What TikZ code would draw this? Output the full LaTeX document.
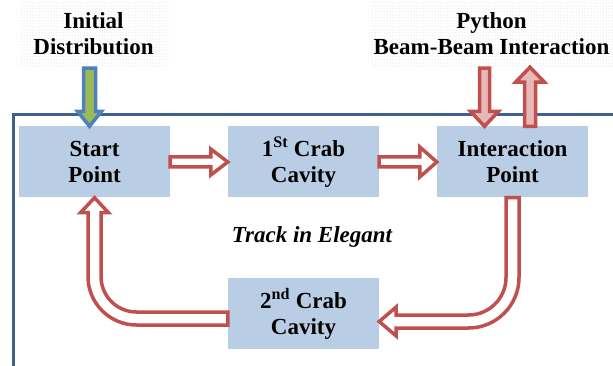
\documentclass[tikz,border=0pt]{standalone}
\usepackage{fontspec}
\setmainfont{Liberation Serif}
\usetikzlibrary{calc,patterns}
\definecolor{framec}{RGB}{65,96,146}
\definecolor{boxfill}{RGB}{185,205,229}
\definecolor{redline}{RGB}{192,80,77}
\definecolor{pinkfill}{RGB}{230,185,184}
\definecolor{greenfill}{RGB}{155,187,89}
\definecolor{blueline}{RGB}{79,129,189}
\tikzset{
  stepbox/.style={fill=boxfill, inner sep=0pt, minimum width=151pt, minimum height=71pt,
    align=center, font=\fontsize{23}{26}\selectfont\bfseries},
  labelbox/.style={pattern=dots, pattern color=black!18, inner sep=0pt, minimum height=68pt,
    align=center, font=\fontsize{23}{26}\selectfont\bfseries},
  hollowarrow/.style={draw=redline, line width=3.5pt, fill=white},
  pinkarrow/.style={draw=redline, line width=3.5pt, fill=pinkfill},
  greenarrow/.style={draw=blueline, line width=3.5pt, fill=greenfill},
}
\begin{document}
\begin{tikzpicture}[x=1pt,y=-1pt]
\useasboundingbox (0,0) rectangle (613,366);
% label areas
\node[labelbox, minimum width=149pt] (init) at (93.5,34) {Initial\\Distribution};
\node[labelbox, minimum width=243pt] (py) at (491.5,34) {Python\\Beam-Beam Interaction};
% frame
\draw[framec, line width=3.5pt] (13.5,366) -- (13.5,114.5) -- (613,114.5);
% boxes
\node[stepbox] (start) at (94.5,162) {Start\\Point};
\node[stepbox] (crab1) at (303.5,162) {1\textsuperscript{St} Crab\\Cavity};
\node[stepbox] (ip) at (512.5,162) {Interaction\\Point};
\node[stepbox] (crab2) at (303.5,313.5) {2\textsuperscript{nd} Crab\\Cavity};
\node[font=\fontsize{23}{26}\selectfont\bfseries\itshape] (track) at (312,237) {Track in Elegant};
% green input arrow
\coordinate (gtip) at ($(start.north)+(-5,0)$);
\coordinate (gtop) at (gtip |- init.south);
\draw[greenarrow] ($(gtop)+(-6,0)$) -- ($(gtip)+(-6,-15)$) -- ($(gtip)+(-12,-15)$) -- (gtip)
  -- ($(gtip)+(12,-15)$) -- ($(gtip)+(6,-15)$) -- ($(gtop)+(6,0)$) -- cycle;
% start -> crab1
\draw[hollowarrow] ($(start.east)+(0,-5)$) -- ($(crab1.west)+(-17,-5)$) -- ($(crab1.west)+(-17,-13)$)
  -- (crab1.west) -- ($(crab1.west)+(-17,13)$) -- ($(crab1.west)+(-17,5)$) -- ($(start.east)+(0,5)$) -- cycle;
% crab1 -> ip
\draw[hollowarrow] ($(crab1.east)+(0,-5)$) -- ($(ip.west)+(-17,-5)$) -- ($(ip.west)+(-17,-15)$)
  -- (ip.west) -- ($(ip.west)+(-17,15)$) -- ($(ip.west)+(-17,5)$) -- ($(crab1.east)+(0,5)$) -- cycle;
% python -> ip (down)
\coordinate (dtip) at ($(ip.north)+(-28,0)$);
\coordinate (dtop) at (dtip |- py.south);
\draw[pinkarrow] ($(dtop)+(-5,0)$) -- ($(dtip)+(-5,-15)$) -- ($(dtip)+(-14,-15)$) -- (dtip)
  -- ($(dtip)+(14,-15)$) -- ($(dtip)+(5,-15)$) -- ($(dtop)+(5,0)$) -- cycle;
% ip -> python (up)
\coordinate (ubase) at ($(ip.north)+(17.5,0)$);
\coordinate (utip) at ($(ubase |- py.south)+(0,-1)$);
\draw[pinkarrow] ($(ubase)+(-5.5,0)$) -- ($(utip)+(-5.5,15)$) -- ($(utip)+(-14.5,15)$) -- (utip)
  -- ($(utip)+(14.5,15)$) -- ($(utip)+(5.5,15)$) -- ($(ubase)+(5.5,0)$) -- cycle;
% ip -> crab2 (curved)
\coordinate (c2e) at ($(crab2.east)+(0,8)$);
\coordinate (k) at (ip.south |- c2e);
\draw[hollowarrow] ($(ip.south)+(-6.5,0)$) -- ($(k)+(-6.5,-44)$)
  arc[start angle=0,end angle=90,radius=37.5]
  -- ($(c2e)+(17,-6.5)$) -- ($(c2e)+(17,-14.5)$) -- (c2e) -- ($(c2e)+(17,14.5)$) -- ($(c2e)+(17,6.5)$)
  -- ($(k)+(-44,6.5)$) arc[start angle=90,end angle=0,radius=50.5]
  -- ($(ip.south)+(6.5,0)$) -- cycle;
% crab2 -> start (curved)
\coordinate (c2w) at ($(crab2.west)+(0,5)$);
\coordinate (k2) at (start.south |- c2w);
\draw[hollowarrow] ($(c2w)+(0,-6.5)$) -- ($(k2)+(42,-6.5)$)
  arc[start angle=90,end angle=180,radius=35.5]
  -- ($(start.south)+(6.5,15)$) -- ($(start.south)+(14,15)$) -- (start.south)
  -- ($(start.south)+(-14,15)$) -- ($(start.south)+(-6.5,15)$)
  -- ($(k2)+(-6.5,-42)$) arc[start angle=180,end angle=90,radius=48.5]
  -- ($(c2w)+(0,6.5)$) -- cycle;
\end{tikzpicture}
\end{document}
